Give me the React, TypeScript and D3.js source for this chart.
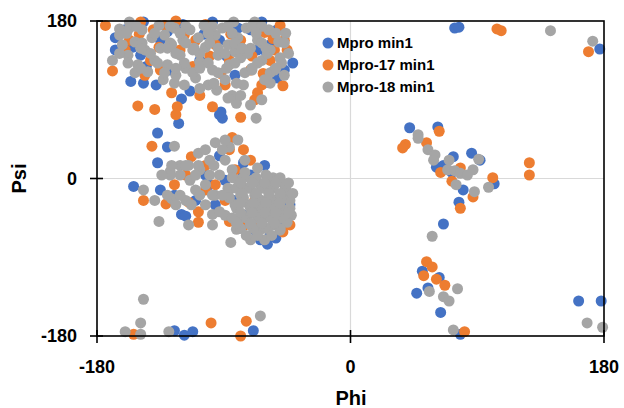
import React from "react";
import * as d3 from "d3";

// Backbone dihedral angles (phi, psi) in degrees for each structure
const mproMin1: [number, number][] = [
  [74, 172], [77, 173], [177, 148],
  [61, 13], [73, 25], [80, -13], [86, 29], [92, 21], [102, -6], [77, -27], [66, -52], [66, 15], [72, 7], [42, 58], [62, 59],
  [51, -106], [63, -113], [55, -125], [47, -131], [64, -153], [78, -178], [162, -140], [178, -140],
  [-125, -174], [-118, -179], [-112, -175], [-69, -174],
  [-167, 161], [-167, 147], [-156, 111], [-147, 109], [-138, 107], [-120, 91], [-122, 63], [-114, 100], [-93, 73], [-91, 69],
  [-59, 110], [-52, 115], [-41, 132], [-147, 179], [-119, 176], [-135, 158], [-107, 135], [-71, 170], [-57, 153], [-47, 124],
  [-82, 118], [-128, 124], [-149, 141], [-66, 147], [-93, 158], [-121, 170], [-160, 170], [-63, 179], [-98, 179], [-92, 76],
  [-155, 150], [-130, 168], [-104, 165], [-80, 172], [-60, 145], [-145, 128], [-88, 140], [-52, 170],
  [-137, 52], [-130, 36], [-137, 18], [-154, -9], [-120, -41], [-117, -43], [-93, 26], [-59, -75], [-46, -22], [-135, -13],
  [-125, -19], [-103, 4], [-100, -7], [-89, -2], [-78, 10], [-75, -42], [-68, -59], [-57, -65], [-50, -53], [-43, -30],
  [-61, 15], [-71, 4], [-82, -25], [-110, -25], [-96, -30], [-64, -70], [-53, -68], [-76, 18],
];

const mpro17Min1: [number, number][] = [
  [104, 171], [107, 169], [169, 145],
  [39, 39], [37, 35], [63, 54], [54, 41], [64, 7], [78, 12], [72, -3], [101, 1], [87, -21], [78, -34], [127, 18], [127, 4],
  [54, -95], [58, -101], [52, -111], [61, -115], [67, -122], [81, -175],
  [-154, -178], [-99, -165], [-74, -163], [-78, -180],
  [-174, 175], [-169, 123], [-151, 83], [-139, 79], [-127, 98], [-123, 82], [-107, 95], [-98, 82], [-78, 70], [-68, 90],
  [-66, 98], [-48, 106], [-45, 147], [-124, 73], [-149, 179], [-124, 180], [-103, 176], [-66, 173], [-61, 167], [-157, 158],
  [-160, 147], [-142, 135], [-121, 147], [-110, 158], [-86, 135], [-57, 135], [-71, 124], [-96, 153], [-135, 124], [-78, 158],
  [-54, 147], [-47, 158], [-132, 175], [-50, 175], [-89, 107], [-146, 118], [-63, 107],
  [-150, 165], [-136, 150], [-118, 164], [-100, 140], [-85, 165], [-70, 140], [-55, 160], [-140, 170], [-112, 128],
  [-92, 120], [-62, 120],
  [-141, 37], [-84, 47], [-76, 33], [-113, 25], [-147, -25], [-131, -29], [-108, -38], [-108, -50], [-115, -27], [-86, -49],
  [-48, -61], [-86, 33], [-96, -7], [-103, -13], [-78, -7], [-68, -25], [-57, -42], [-89, -25], [-75, -53], [-64, -53],
  [-125, -7], [-117, 4], [-103, 15], [-71, 21], [-50, -25], [-43, -53], [-82, 10], [-61, -7],
];

const mpro18Min1: [number, number][] = [
  [142, 169], [172, 157],
  [48, 50], [48, 46], [55, 33], [60, 27], [59, 21], [69, 10], [74, 9], [78, 6], [70, 21], [91, 22], [87, 10], [83, 4],
  [75, -7], [98, -10], [88, -15], [58, -66],
  [56, -129], [66, -135], [70, -140], [76, -126], [73, -173], [168, -165], [179, -170],
  [-147, -138], [-149, -165], [-160, -175], [-149, -178], [-129, -175], [-64, -157],
  [-169, 135], [-95, 101], [-81, 86], [-84, 95], [-67, 69], [-82, 145], [-164, 171], [-157, 179],
  [-164, 164], [-162, 153], [-157, 172], [-158, 141], [-153, 156], [-151, 130], [-148, 170], [-146, 147], [-144, 122],
  [-141, 161], [-139, 135], [-136, 175], [-135, 149], [-133, 113], [-132, 164], [-130, 130], [-127, 153], [-125, 172],
  [-124, 118], [-121, 141], [-119, 158], [-117, 126], [-114, 170], [-112, 147], [-110, 115], [-108, 161], [-107, 133],
  [-104, 175], [-103, 150], [-101, 107], [-98, 124], [-96, 164], [-94, 141], [-91, 172], [-89, 113], [-87, 153], [-86, 130],
  [-83, 179], [-80, 161], [-78, 138], [-76, 107], [-74, 172], [-71, 149], [-70, 124], [-68, 179], [-66, 158], [-63, 135],
  [-61, 113], [-58, 170], [-57, 147], [-54, 124], [-51, 156], [-50, 138], [-47, 118], [-78, 95], [-71, 84], [-63, 90],
  [-118, 107], [-107, 103], [-87, 92],
  [-152, 174], [-128, 174], [-117, 174], [-98, 174], [-87, 174], [-70, 174], [-63, 174],
  [-159, 166], [-139, 166], [-121, 166], [-101, 166], [-84, 166], [-67, 166], [-53, 166], [-46, 166],
  [-148, 155], [-128, 155], [-117, 155], [-100, 155], [-82, 155], [-63, 155], [-47, 155],
  [-164, 143], [-142, 143], [-124, 143], [-107, 143], [-89, 143], [-73, 143], [-59, 143], [-44, 143],
  [-158, 132], [-137, 132], [-118, 132], [-101, 132], [-82, 132], [-66, 132], [-49, 132],
  [-153, 121], [-132, 121], [-112, 121], [-94, 121], [-75, 121], [-57, 121],
  [-125, 109], [-97, 109], [-81, 109], [-57, 109],
  [-149, 149], [-130, 149], [-111, 149], [-94, 149], [-77, 149], [-60, 149],
  [-149, 126], [-124, 126], [-107, 126], [-88, 126], [-70, 126], [-53, 126],
  [-125, 37], [-108, 29], [-96, 41], [-86, 36], [-147, -13], [-139, -25], [-127, -23], [-136, -49], [-115, -53], [-98, -41],
  [-81, -58], [-85, -73], [-42, -42], [-62, -57], [-115, 15], [-128, 8],
  [-128, 4], [-121, 15], [-114, -2], [-107, 10], [-103, -7], [-100, 21], [-96, -19], [-93, 4], [-89, 21], [-87, -11],
  [-84, 10], [-82, -30], [-80, -2], [-78, -19], [-77, -42], [-75, 7], [-73, -11], [-72, -30], [-71, -53], [-70, -2],
  [-68, -19], [-67, -38], [-66, -61], [-64, -7], [-63, -25], [-61, -45], [-60, 4], [-58, -15], [-57, -34], [-55, -53],
  [-54, -7], [-53, -25], [-51, -42], [-50, -59], [-48, -19], [-47, -36], [-45, -50], [-61, -70], [-71, -70], [-80, -50],
  [-89, -42], [-86, -13], [-75, 21], [-66, 12], [-55, 1], [-47, -7], [-43, -25], [-110, -13], [-117, -25], [-103, -30],
  [-93, -38], [-98, -53],
  [-84, 1], [-76, 1], [-67, 1], [-59, 1], [-50, 1],
  [-81, -11], [-71, -11], [-63, -11], [-55, -11], [-46, -11],
  [-86, -22], [-76, -22], [-66, -22], [-57, -22], [-49, -22],
  [-81, -34], [-71, -34], [-63, -34], [-53, -34], [-43, -34],
  [-84, -45], [-74, -45], [-66, -45], [-57, -45], [-49, -45],
  [-78, -57], [-69, -57], [-59, -57], [-50, -57],
  [-74, -65], [-66, -65], [-56, -65],
  [-78, -5], [-70, -5], [-61, -5], [-53, -5], [-44, -5],
  [-77, -17], [-67, -17], [-58, -17], [-50, -17], [-41, -17],
  [-78, -28], [-69, -28], [-60, -28], [-50, -28],
  [-78, -39], [-70, -39], [-61, -39], [-53, -39], [-44, -39],
  [-81, -51], [-71, -51], [-63, -51], [-54, -51],
  [-127, 15], [-117, 15], [-108, 15], [-97, 15],
  [-134, 4], [-121, 4], [-110, 4], [-100, 4],
  [-130, -19], [-121, -19], [-107, -19], [-98, -19], [-91, -19],
  [-124, -30], [-113, -30], [-103, 33], [-91, 33], [-89, 44], [-80, 44],
];

const seriesNames = ["Mpro min1", "Mpro-17 min1", "Mpro-18 min1"];
const seriesColors = ["#4472C4", "#ED7D31", "#A5A5A5"];
const seriesData = [mproMin1, mpro17Min1, mpro18Min1];
const tickValues = [-180, 0, 180];

const W = 624;
const H = 408;
const font = "'Liberation Sans', Arial, sans-serif";

export default function App() {
  const x = d3.scaleLinear().domain([-180, 180]).range([97, 604]);
  const y = d3.scaleLinear().domain([-180, 180]).range([336, 21]);
  const [x0, x1] = x.range();
  const [y0, y1] = y.range();

  return (
    <svg
      width={W}
      height={H}
      style={{ position: "absolute", left: 0, top: 0, background: "#fff" }}
      fontFamily={font}
    >
      <rect width={W} height={H} fill="#fff" />
      {/* zero grid lines */}
      <line x1={x(0)} x2={x(0)} y1={y1} y2={y0} stroke="#d9d9d9" strokeWidth={1.2} />
      <line x1={x0} x2={x1} y1={y(0)} y2={y(0)} stroke="#d9d9d9" strokeWidth={1.2} />

      {/* points: first series at the back */}
      {seriesData.map((data, si) => (
        <g key={si}>
          {data.map(([phi, psi], i) => (
            <circle key={i} cx={x(phi)} cy={y(psi)} r={5.5} fill={seriesColors[si]} />
          ))}
        </g>
      ))}

      {/* plot frame */}
      <rect x={x0} y={y1} width={x1 - x0} height={y0 - y1} fill="none" stroke="#000" strokeWidth={1.6} />

      {/* tick marks */}
      {tickValues.map((t) => (
        <g key={"t" + t}>
          <line x1={x0 - 7} x2={x0 + 6} y1={y(t)} y2={y(t)} stroke="#000" strokeWidth={1.6} />
          <line x1={x(t)} x2={x(t)} y1={y0 - 6} y2={y0 + 7} stroke="#000" strokeWidth={1.6} />
        </g>
      ))}

      {/* tick labels */}
      {tickValues.map((t) => (
        <text key={"yl" + t} x={77} y={y(t)} dy="0.36em" textAnchor="end" fontSize={18} fontWeight="bold" fill="#000">
          {t}
        </text>
      ))}
      {tickValues.map((t) => (
        <text key={"xl" + t} x={x(t)} y={373} textAnchor="middle" fontSize={18} fontWeight="bold" fill="#000">
          {t}
        </text>
      ))}

      {/* axis titles */}
      <text x={351} y={405} textAnchor="middle" fontSize={20} fontWeight="bold" fill="#000">
        Phi
      </text>
      <text
        transform={`translate(26,${y(0)}) rotate(-90)`}
        textAnchor="middle"
        fontSize={20}
        fontWeight="bold"
        fill="#000"
      >
        Psi
      </text>

      {/* legend */}
      {seriesNames.map((name, i) => (
        <g key={name} transform={`translate(328,${43 + i * 22})`}>
          <circle r={5.5} fill={seriesColors[i]} />
          <text x={9} dy="0.36em" fontSize={15} fontWeight="bold" fill="#000">
            {name}
          </text>
        </g>
      ))}
    </svg>
  );
}
